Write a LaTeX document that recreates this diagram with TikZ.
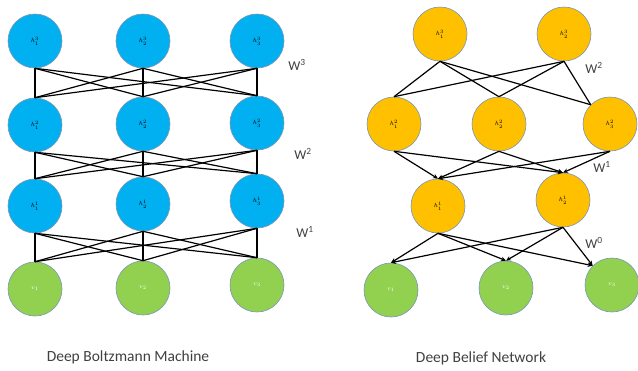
\documentclass[tikz,border=0pt]{standalone}
\usepackage{fontspec}
\setmainfont{Carlito}
\usetikzlibrary{arrows.meta}
\definecolor{cblue}{HTML}{00B0F0}
\definecolor{corange}{HTML}{FFC000}
\definecolor{cgreen}{HTML}{92D050}
\definecolor{cedge}{HTML}{7A95B5}
\definecolor{ctext}{HTML}{404040}
\tikzset{
  unit/.style={circle,draw=cedge,line width=0.6pt,minimum size=54pt,inner sep=0pt,font=\fontsize{6.5}{6.5}\selectfont},
  bnode/.style={unit,fill=cblue},
  onode/.style={unit,fill=corange},
  gnode/.style={unit,fill=cgreen,text=white},
  link/.style={black,line width=1.2pt},
  alink/.style={link,-{Stealth[length=5pt,width=4.5pt]}},
  wlab/.style={text=ctext,font=\fontsize{13.5}{13.5}\selectfont},
  captxt/.style={text=ctext,font=\fontsize{15.5}{16}\selectfont}
}
\begin{document}
\begin{tikzpicture}[x=1pt,y=-1pt]
\useasboundingbox (0,0) rectangle (638,370);
% DBM
\node[bnode] (a1) at (35,41) {$h^3_1$};
\node[bnode] (a2) at (143,41) {$h^3_2$};
\node[bnode] (a3) at (257,41) {$h^3_3$};
\node[bnode] (b1) at (35,125) {$h^2_1$};
\node[bnode] (b2) at (143,124) {$h^2_2$};
\node[bnode] (b3) at (257,123) {$h^2_3$};
\node[bnode] (c1) at (35,206) {$h^1_1$};
\node[bnode] (c2) at (143,204) {$h^1_2$};
\node[bnode] (c3) at (257,201) {$h^1_3$};
\node[gnode] (d1) at (35,289) {$v_1$};
\node[gnode] (d2) at (143,288) {$v_2$};
\node[gnode] (d3) at (257,285) {$v_3$};
\foreach \u in {a1,a2,a3}{\foreach \v in {b1,b2,b3}{\draw[link] (\u.south) -- (\v.north);}}
\foreach \u in {b1,b2,b3}{\foreach \v in {c1,c2,c3}{\draw[link] (\u.south) -- (\v.north);}}
\foreach \u in {c1,c2,c3}{\foreach \v in {d1,d2,d3}{\draw[link] (\u.south) -- (\v.north);}}
\node[wlab] (w3) at (297,65) {W\textsuperscript{3}};
\node[wlab] (w2) at (303,154) {W\textsuperscript{2}};
\node[wlab] (w1) at (305,232) {W\textsuperscript{1}};
\node[captxt] (t1) at (128,357) {Deep Boltzmann Machine};
% DBN
\node[onode] (p1) at (440,34) {$h^3_1$};
\node[onode] (p2) at (564,34) {$h^3_2$};
\node[onode] (q1) at (394,124) {$h^2_1$};
\node[onode] (q2) at (499,124) {$h^2_2$};
\node[onode] (q3) at (610,124) {$h^2_3$};
\node[onode] (r1) at (438,206) {$h^1_1$};
\node[onode] (r2) at (563,200) {$h^1_2$};
\node[gnode] (s1) at (391,290) {$v_1$};
\node[gnode] (s2) at (506,288) {$v_2$};
\node[gnode] (s3) at (612,285) {$v_3$};
\foreach \u in {p1,p2}{
  \draw[link] (\u.south) -- (q1.north);
  \draw[link] (\u.south) -- (q2.north);
  \draw[link] (\u.south) -- (q3.north west);}
\foreach \u in {q1,q2,q3}{
  \draw[alink] (\u.south) -- (r1.north);
  \draw[alink] (\u.south) -- (r2.north);}
\foreach \u in {r1,r2}{
  \draw[alink] (\u.south) -- (s1.north);
  \draw[alink] (\u.south) -- (s2.north);
  \draw[alink] (\u.south) -- (s3.north west);}
\node[wlab] (v2) at (594,68) {W\textsuperscript{2}};
\node[wlab] (v1) at (602,167) {W\textsuperscript{1}};
\node[wlab] (v0) at (594,243) {W\textsuperscript{0}};
\node[captxt] (t2) at (481,358) {Deep Belief Network};
\end{tikzpicture}
\end{document}
